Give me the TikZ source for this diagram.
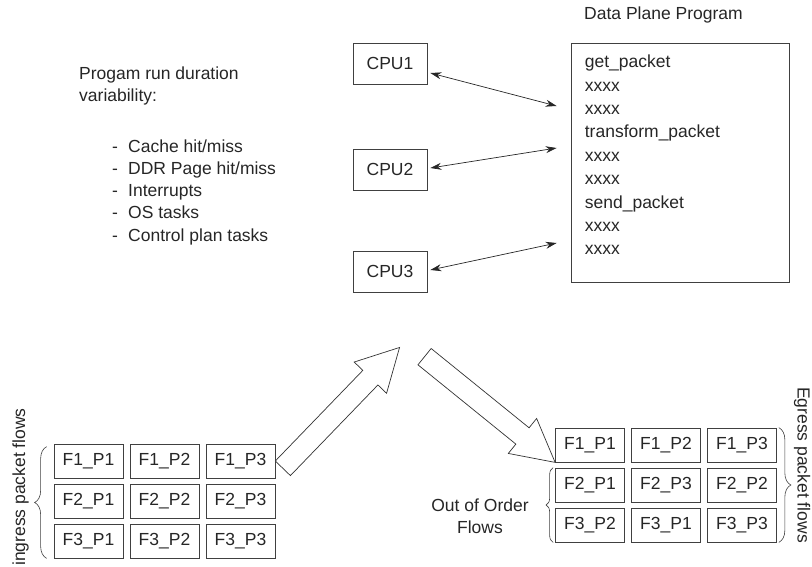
\documentclass[tikz,border=0pt]{standalone}
\usepackage{fontspec}
\setmainfont{Liberation Sans}
\usetikzlibrary{arrows.meta,positioning,calc,decorations.pathreplacing}

\tikzset{
  pkt/.style={draw=black!75, line width=0.7pt, minimum width=69pt, minimum height=34pt, inner sep=0pt},
  cpu/.style={draw=black!75, line width=0.7pt, minimum width=74pt, minimum height=41pt, inner sep=0pt},
  prog/.style={draw=black!75, line width=0.7pt, minimum width=218pt, minimum height=239pt, inner sep=0pt},
  txt/.style={anchor=base west, inner sep=0pt},
  bus/.style={{Stealth[length=11pt,width=7pt]}-{Stealth[length=11pt,width=7pt]}, draw=black!85, line width=0.7pt},
  flowbrace/.style={decorate, decoration={brace, amplitude=#1}, draw=black!75, line width=0.6pt},
  bigarrow/.pic={\draw[black!80, line width=0.7pt, fill=white] (0,-10.5) -- (126,-10.5) -- (126,-22.5) -- (168,0) -- (126,22.5) -- (126,10.5) -- (0,10.5) -- cycle;}
}

\begin{document}
\begin{tikzpicture}[x=1pt, y=-1pt, font=\fontsize{17.5}{22}\selectfont, text=black!85, node distance=40pt and 76pt, on grid]
\useasboundingbox (0,0) rectangle (812,566);

% cpus and the program they share
\node[cpu] (cpu1) at (390,63.5) {CPU1};
\node[cpu] (cpu2) at (390,169.5) {CPU2};
\node[cpu] (cpu3) at (390,271.5) {CPU3};
\node[prog] (dpp) at (680,162.5) {};
\node[txt] (dpptitle) at (584,19.5) {Data Plane Program};
\foreach \t [count=\i] in {get\_packet, xxxx, xxxx, transform\_packet, xxxx, xxxx, send\_packet, xxxx, xxxx}
  \node[txt] (line\i) at ($(dpp.north west)+(14,{25+23.4*(\i-1)})$) {\t};

\draw[bus] ($(cpu1.east)+(3,9.5)$) -- ($(dpp.west)+(-14,-56.5)$);
\draw[bus] ($(cpu2.east)+(3,-1.5)$) -- ($(dpp.west)+(-14,-14.5)$);
\draw[bus] ($(cpu3.east)+(3,-1.5)$) -- ($(dpp.west)+(-14,80.5)$);

% causes of variability
\node[txt] (var1) at (79,79) {Progam run duration};
\node[txt] (var2) at (79,101) {variability:};
\foreach \t [count=\i] in {Cache hit/miss, DDR Page hit/miss, Interrupts, OS tasks, Control plan tasks}
  \node[txt] (cause\i) at (112,{152+22.3*(\i-1)}) {\makebox[16pt][l]{-}\t};

% ingress flows
\node[pkt] (in11) at (88.5,461) {F1\_P1};
\node[pkt, right=of in11] (in12) {F1\_P2};
\node[pkt, right=of in12] (in13) {F1\_P3};
\node[pkt, below=of in11] (in21) {F2\_P1};
\node[pkt, right=of in21] (in22) {F2\_P2};
\node[pkt, right=of in22] (in23) {F2\_P3};
\node[pkt, below=of in21] (in31) {F3\_P1};
\node[pkt, right=of in31] (in32) {F3\_P2};
\node[pkt, right=of in32] (in33) {F3\_P3};
\draw[flowbrace=12] ($(in31.south west)+(-7,0)$) -- ($(in11.north west)+(-7,3)$);
\node[rotate=90, anchor=base] (inlabel) at (25,487) {ingress packet flows};

% egress flows
\node[pkt] (out11) at (590,445) {F1\_P1};
\node[pkt, right=of out11] (out12) {F1\_P2};
\node[pkt, right=of out12] (out13) {F1\_P3};
\node[pkt, below=of out11] (out21) {F2\_P1};
\node[pkt, right=of out21] (out22) {F2\_P3};
\node[pkt, right=of out22] (out23) {F2\_P2};
\node[pkt, below=of out21] (out31) {F3\_P2};
\node[pkt, right=of out31] (out32) {F3\_P1};
\node[pkt, right=of out32] (out33) {F3\_P3};
\draw[flowbrace=12] ($(out13.north east)+(2,0)$) -- ($(out33.south east)+(2,0)$);
\node[rotate=-90, anchor=base] (outlabel) at (797.5,465) {Egress packet flows};
\draw[flowbrace=7] ($(out31.south west)+(-2,0)$) -- ($(out21.north west)+(-2,0)$);
\node[align=center] (ooo) at (480,516) {Out of Order\\Flows};

% packets in and out of the cpus
\pic[rotate=46] at ($(in13.east)+(7.5,7.3)$) {bigarrow};
\pic[rotate=-39] at ($(out11.south west)+(-130.6,-105.7)$) {bigarrow};
\end{tikzpicture}
\end{document}
